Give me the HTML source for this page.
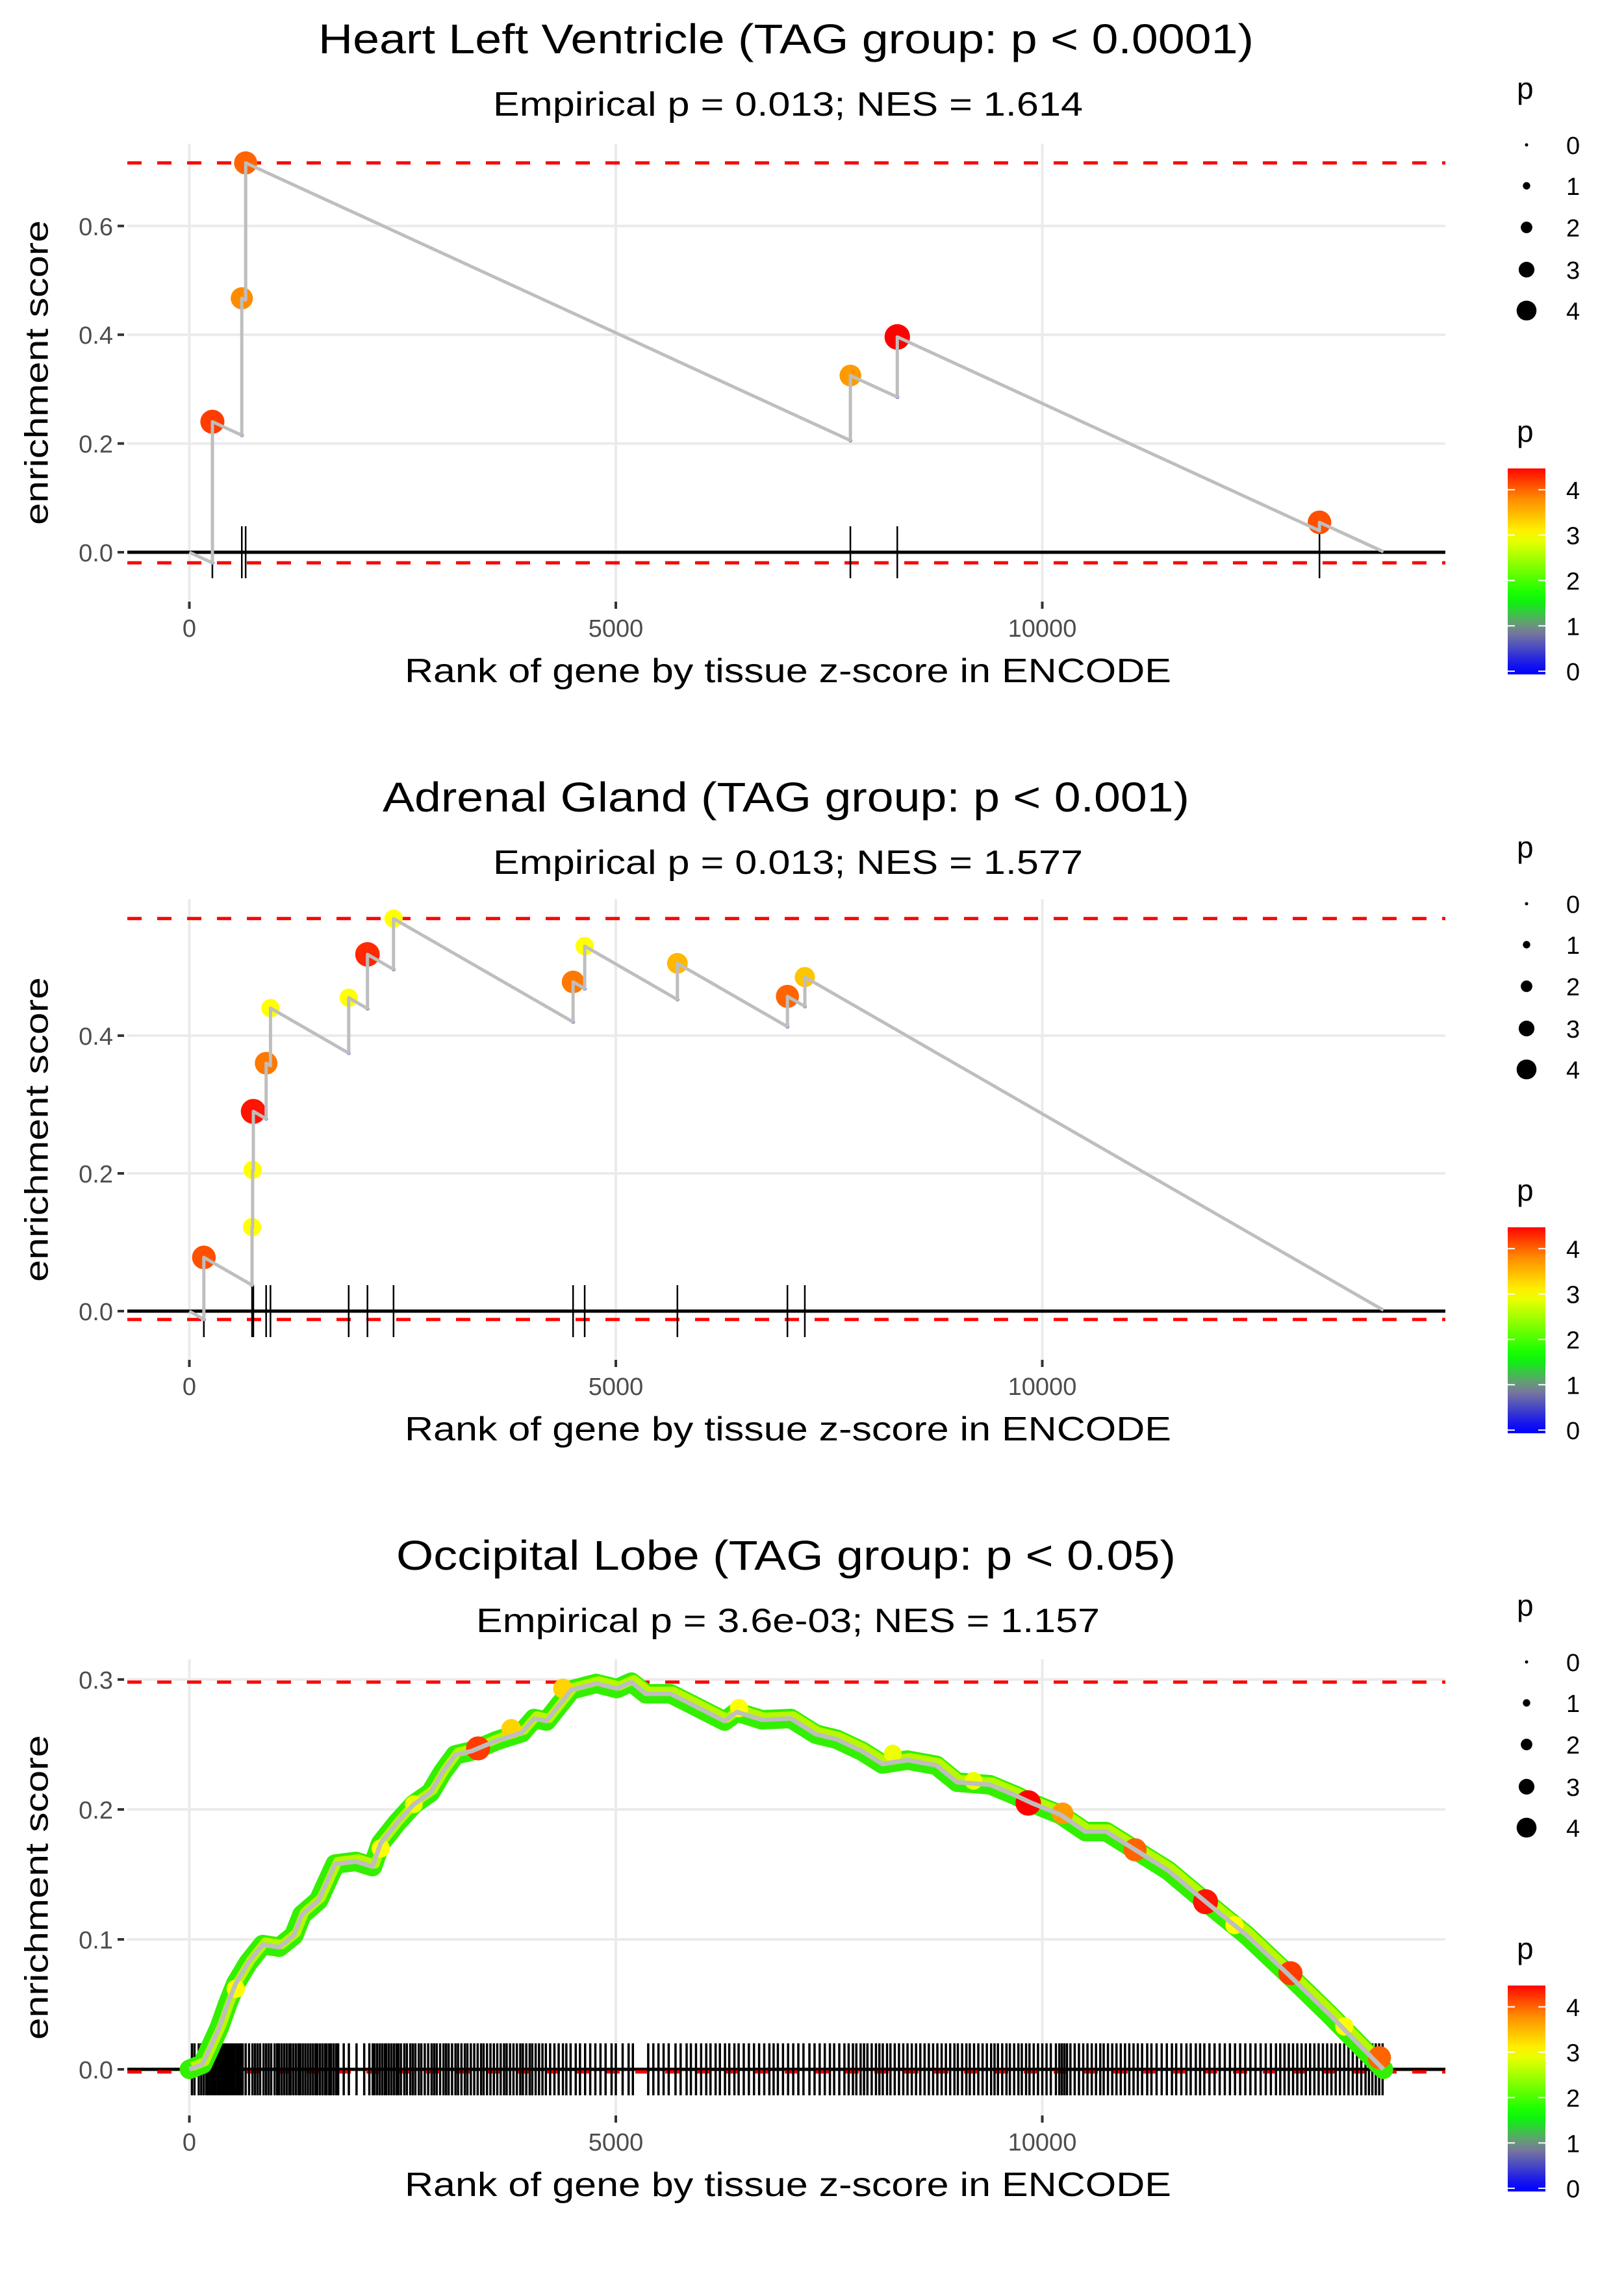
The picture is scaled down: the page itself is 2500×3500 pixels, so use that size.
<!DOCTYPE html>
<html><head><meta charset="utf-8">
<style>
html,body{margin:0;padding:0;background:#fff;}
svg{display:block;font-family:"Liberation Sans",sans-serif;}
</style></head>
<body>
<svg id="chart" width="2500" height="3500" viewBox="0 0 2500 3500" xmlns="http://www.w3.org/2000/svg">
<defs>
<linearGradient id="pgrad" x1="0" y1="1" x2="0" y2="0"></linearGradient>
</defs>
</svg>
<script>
// ---------- DATA ----------
const xTickValues = [0, 5000, 10000];
const xTickLabels = ["0", "5000", "10000"];
const nGenes = 14000;

const p1Titles = ["Heart Left Ventricle (TAG group: p < 0.0001)", "Empirical p = 0.013; NES = 1.614"];
const p1HitRanks = [270, 615, 660, 7750, 8300, 13250];
const p1HitES = [0.24, 0.467, 0.716, 0.325, 0.396, 0.055];
const p1HitP = [4.2, 3.8, 4.0, 3.7, 4.5, 4.1];
const p1MissStep = 0.0000720;
const p1YTicks = [0, 0.2, 0.4, 0.6];
const p1YTickLabels = ["0.0", "0.2", "0.4", "0.6"];

const p2Titles = ["Adrenal Gland (TAG group: p < 0.001)", "Empirical p = 0.013; NES = 1.577"];
const p2HitRanks = [170, 735, 742, 750, 900, 951, 1868, 2088, 2394, 4499, 4635, 5722, 7012, 7216];
const p2HitES = [0.078, 0.122, 0.205, 0.29, 0.36, 0.44, 0.455, 0.518, 0.57, 0.478, 0.53, 0.505, 0.457, 0.485];
const p2HitP = [4.1, 3.0, 3.0, 4.4, 3.9, 3.0, 3.0, 4.3, 3.0, 3.9, 3.0, 3.5, 4.0, 3.4];
const p2MissStep = 0.0000713;
const p2YTicks = [0, 0.2, 0.4];
const p2YTickLabels = ["0.0", "0.2", "0.4"];

const p3Titles = ["Occipital Lobe (TAG group: p < 0.05)", "Empirical p = 3.6e-03; NES = 1.157"];
const p3CurveRanks = [0,155,350,447,544,690,860,1054,1224,1321,1515,1612,1710,1952,2147,2244,2438,2632,2827,2972,3118,3312,3604,3895,4041,4187,4332,4478,4769,5012,5182,5352,5643,5886,6275,6420,6712,7052,7343,7591,7883,8126,8417,8757,9000,9388,9680,9874,10214,10505,10748,11088,11477,11914,12400,12885,13371,13760,14000];
const p3CurveES = [0,0.004,0.032,0.05,0.066,0.082,0.096,0.094,0.103,0.119,0.130,0.144,0.158,0.160,0.156,0.174,0.190,0.204,0.213,0.229,0.242,0.245,0.253,0.259,0.270,0.268,0.280,0.292,0.297,0.293,0.298,0.289,0.289,0.281,0.268,0.275,0.269,0.270,0.258,0.254,0.245,0.235,0.238,0.234,0.221,0.219,0.211,0.205,0.196,0.183,0.183,0.169,0.153,0.129,0.103,0.073,0.042,0.016,0.0];
const p3PointRanks = [544, 2244, 2632, 3385, 3774, 4380, 6445, 8247, 9194, 9835, 10238, 11088, 11914, 12254, 12910, 13541, 13953];
const p3PointES = [0.062, 0.170, 0.204, 0.247, 0.262, 0.293, 0.278, 0.243, 0.222, 0.205, 0.197, 0.169, 0.129, 0.111, 0.074, 0.033, 0.009];
const p3PointP = [3.0, 3.0, 2.9, 4.2, 3.3, 3.3, 3.0, 2.9, 2.9, 4.5, 3.7, 4.0, 4.4, 3.0, 4.2, 3.0, 4.0];
const p3RugRanks = [30,60,110,140,170,200,215,240,265,290,305,330,350,365,390,410,430,445,470,490,505,530,555,580,600,625,660,700,740,770,800,830,870,900,930,960,1000,1030,1050,1080,1110,1140,1170,1190,1220,1250,1280,1300,1330,1360,1390,1420,1450,1480,1500,1530,1560,1590,1610,1640,1660,1690,1720,1745,1810,1870,1960,2050,2110,2150,2170,2200,2230,2260,2290,2310,2340,2370,2400,2430,2450,2480,2520,2550,2590,2620,2650,2690,2720,2760,2800,2840,2870,2900,2940,2980,3010,3040,3080,3120,3150,3190,3230,3260,3300,3340,3380,3420,3450,3490,3530,3570,3610,3650,3690,3720,3760,3800,3840,3880,3910,3950,3990,4020,4060,4100,4140,4180,4230,4280,4330,4380,4420,4470,4530,4580,4640,4700,4760,4820,4880,4950,5000,5080,5150,5200,5380,5440,5500,5560,5620,5700,5760,5830,5880,5940,6000,6060,6110,6170,6220,6280,6330,6390,6440,6500,6560,6620,6680,6740,6800,6850,6900,6960,7020,7080,7140,7200,7270,7330,7390,7450,7510,7560,7620,7680,7730,7780,7820,7870,7910,7950,8000,8050,8090,8130,8180,8220,8270,8320,8370,8420,8470,8520,8570,8620,8670,8720,8770,8820,8870,8920,8970,9010,9060,9110,9150,9200,9250,9300,9350,9400,9440,9480,9530,9580,9620,9670,9720,9760,9810,9850,9900,9950,10000,10050,10100,10160,10200,10230,10260,10290,10330,10380,10430,10480,10530,10580,10630,10680,10720,10770,10820,10870,10920,10970,11020,11070,11120,11170,11230,11280,11340,11400,11460,11520,11570,11630,11690,11740,11800,11850,11900,11960,12020,12080,12140,12200,12260,12320,12380,12440,12500,12560,12620,12680,12740,12790,12840,12890,12940,12990,13040,13090,13140,13190,13240,13290,13340,13390,13440,13490,13540,13590,13640,13690,13740,13790,13830,13870,13910,13950,13990];
const p3YTicks = [0, 0.1, 0.2, 0.3];
const p3YTickLabels = ["0.0", "0.1", "0.2", "0.3"];

const sizeLegendValues = [0, 1, 2, 3, 4];
const colorLegendValues = [0, 1, 2, 3, 4];

// ---------- HELPERS ----------
const NS = "http://www.w3.org/2000/svg";
const svg = document.getElementById("chart");
function mk(tag, attrs, parent) {
  const e = document.createElementNS(NS, tag);
  for (const k in attrs) e.setAttribute(k, attrs[k]);
  (parent || svg).appendChild(e);
  return e;
}
const X0 = 291.5, XK = 0.1313;
function xPx(r) { return X0 + r * XK; }
const PANEL_L = 196, PANEL_R = 2225;

const colorStops = [[0, [0, 0, 255]], [0.9, [128, 128, 150]], [1.6, [0, 255, 0]], [3.0, [255, 255, 0]], [3.8, [255, 140, 0]], [4.5, [255, 0, 0]]];
function pColor(p) {
  if (p <= colorStops[0][0]) return "rgb(" + colorStops[0][1].join(",") + ")";
  for (let i = 1; i < colorStops.length; i++) {
    if (p <= colorStops[i][0]) {
      const a = colorStops[i - 1], b = colorStops[i];
      const t = (p - a[0]) / (b[0] - a[0]);
      const c = a[1].map((v, j) => Math.round(v + (b[1][j] - v) * t));
      return "rgb(" + c.join(",") + ")";
    }
  }
  return "rgb(255,0,0)";
}
function pRadius(p) { return 3 + 3.7 * p; }

// gradient
const grad = document.getElementById("pgrad");
for (let i = 0; i <= 20; i++) {
  const v = -0.07 + (4.54 * i) / 20;
  mk("stop", { offset: (i / 20).toFixed(3), "stop-color": pColor(v) }, grad);
}

function buildRunning(ranks, es, step) {
  const pts = [[0, 0]];
  let prevR = 0, prevV = 0;
  const troughs = [];
  for (let i = 0; i < ranks.length; i++) {
    const low = prevV - step * (ranks[i] - prevR);
    pts.push([ranks[i], low]);
    troughs.push([ranks[i], low]);
    pts.push([ranks[i], es[i]]);
    prevR = ranks[i]; prevV = es[i];
  }
  pts.push([nGenes, Math.max(prevV - step * (nGenes - prevR), 0)]);
  return { pts, troughs };
}

function drawPanel(cfg) {
  const g = mk("g", {});
  
  
  const yPx = v => cfg.y0 - v * cfg.k;
  const t1 = mk("text", { x: 1210, y: cfg.titleY, "text-anchor": "middle", "font-size": 64, fill: "#000", textLength: cfg.titleLen, lengthAdjust: "spacingAndGlyphs" }, g);
  t1.textContent = cfg.titles[0];
  
  
  const t2 = mk("text", { x: 1213, y: cfg.titleY + 96, "text-anchor": "middle", "font-size": 52, fill: "#000", textLength: cfg.subLen, lengthAdjust: "spacingAndGlyphs" }, g);
  t2.textContent = cfg.titles[1];
  
  
  cfg.yTicks.forEach((v, i) => {
    const gl = mk("line", { x1: PANEL_L, x2: PANEL_R, y1: yPx(v), y2: yPx(v), stroke: "#ebebeb", "stroke-width": 4 }, g);
    
    
    const tm = mk("line", { x1: 181, x2: 191, y1: yPx(v), y2: yPx(v), stroke: "#333", "stroke-width": 4 }, g);
    
    
    const tl = mk("text", { x: 174, y: yPx(v) + 14, "text-anchor": "end", "font-size": 38, fill: "#4d4d4d" }, g);
    tl.textContent = cfg.yTickLabels[i];
    
    
  });
  xTickValues.forEach((v, i) => {
    const gl = mk("line", { x1: xPx(v), x2: xPx(v), y1: cfg.top, y2: cfg.bottom, stroke: "#ebebeb", "stroke-width": 4 }, g);
    
    
    const tm = mk("line", { x1: xPx(v), x2: xPx(v), y1: cfg.bottom, y2: cfg.bottom + 11, stroke: "#333", "stroke-width": 4 }, g);
    
    
    const tl = mk("text", { x: xPx(v), y: cfg.bottom + 54, "text-anchor": "middle", "font-size": 38, fill: "#4d4d4d" }, g);
    tl.textContent = xTickLabels[i];
    
    
  });
  const xt = mk("text", { x: 1213, y: cfg.bottom + 124, "text-anchor": "middle", "font-size": 52, fill: "#000", textLength: 1180, lengthAdjust: "spacingAndGlyphs" }, g);
  xt.textContent = "Rank of gene by tissue z-score in ENCODE";
  
  
  const cy = (cfg.top + cfg.bottom) / 2;
  const yt = mk("text", { transform: "translate(56," + cy + ") rotate(-90)", dy: "0.35em", "text-anchor": "middle", "font-size": 50, fill: "#000", textLength: 469, lengthAdjust: "spacingAndGlyphs" }, g);
  yt.textContent = "enrichment score";
  
  
  const zl = mk("line", { x1: PANEL_L, x2: PANEL_R, y1: yPx(0), y2: yPx(0), stroke: "#000", "stroke-width": 5 }, g);
  
  
  [cfg.maxES, cfg.minES].forEach((v, i) => {
    const dl = mk("line", { x1: PANEL_L, x2: PANEL_R, y1: yPx(v), y2: yPx(v), stroke: "#ff0000", "stroke-width": 5, "stroke-dasharray": "22 24" }, g);
    
    
  });
  cfg.rug.forEach(r => {
    const rl = mk("line", { x1: xPx(r), x2: xPx(r), y1: yPx(0) - 40, y2: yPx(0) + 40, stroke: "#000", "stroke-width": cfg.rugW }, g);
    
    
  });
  if (cfg.band) {
    const d = cfg.band.map((p, i) => (i ? "L" : "M") + xPx(p[0]).toFixed(1) + "," + yPx(p[1]).toFixed(1)).join(" ");
    const b1 = mk("path", { d: d, fill: "none", stroke: "#33f000", "stroke-width": 30, "stroke-linejoin": "round", "stroke-linecap": "round" }, g);
    
    
    const b2 = mk("path", { d: d, fill: "none", stroke: "#b8f800", "stroke-width": 14, "stroke-linejoin": "round", transform: "translate(4,-4)" }, g);
    
    
  }
  (cfg.troughs || []).forEach(t => {
    const c = mk("circle", { cx: xPx(t[0]), cy: yPx(t[1]), r: 3, fill: pColor(0.4) }, g);
    
    
  });
  cfg.points.forEach(pt => {
    const c = mk("circle", { cx: xPx(pt[0]), cy: yPx(pt[1]), r: pRadius(pt[2]), fill: pColor(pt[2]) }, g);
    
    
  });
  const ld = cfg.line.map((p, i) => (i ? "L" : "M") + xPx(p[0]).toFixed(1) + "," + yPx(p[1]).toFixed(1)).join(" ");
  const ln = mk("path", { d: ld, fill: "none", stroke: "#bebebe", "stroke-width": cfg.lineW, "stroke-linejoin": "round" }, g);
  
  

  const off = cfg.legOff;
  const lp = mk("text", { x: 2335, y: 152 + off, "font-size": 46, fill: "#000" }, g);
  lp.textContent = "p";
  
  
  const sy = [223, 286, 350, 415, 478];
  sizeLegendValues.forEach((v, i) => {
    const c = mk("circle", { cx: 2350, cy: sy[i] + off, r: 2.5 + 3.2 * v, fill: "#000" }, g);
    
    
    const t = mk("text", { x: 2411, y: sy[i] + off + 14, "font-size": 38, fill: "#000" }, g);
    t.textContent = String(v);
    
    
  });
  const cp = mk("text", { x: 2335, y: 680 + off, "font-size": 46, fill: "#000" }, g);
  cp.textContent = "p";
  
  
  const barTop = 721 + off, barBot = 1038 + off;
  const bar = mk("rect", { x: 2321, y: barTop, width: 58, height: barBot - barTop, fill: "url(#pgrad)" }, g);
  
  
  const cyv = v => barBot - (v + 0.07) / 4.54 * (barBot - barTop);
  colorLegendValues.forEach(v => {
    mk("line", { x1: 2321, x2: 2332, y1: cyv(v), y2: cyv(v), stroke: "#fff", "stroke-width": 2 }, g);
    mk("line", { x1: 2368, x2: 2379, y1: cyv(v), y2: cyv(v), stroke: "#fff", "stroke-width": 2 }, g);
    const t = mk("text", { x: 2411, y: cyv(v) + 14, "font-size": 38, fill: "#000" }, g);
    t.textContent = String(v);
    
    
  });
}

(function () {
  const run = buildRunning(p1HitRanks, p1HitES, p1MissStep);
  const vals = run.pts.map(p => p[1]);
  drawPanel({ name: "panel-heart-left-ventricle", titles: p1Titles, titleY: 82, titleLen: 1440, subLen: 908,
    y0: 850, k: 837, top: 221, bottom: 926, yTicks: p1YTicks, yTickLabels: p1YTickLabels,
    maxES: Math.max(...vals), minES: Math.min(...vals), rug: p1HitRanks, rugW: 2.5, lineW: 5, troughs: run.troughs,
    points: p1HitRanks.map((r, i) => [r, p1HitES[i], p1HitP[i]]), line: run.pts, legOff: 0 });
})();
(function () {
  const run = buildRunning(p2HitRanks, p2HitES, p2MissStep);
  const vals = run.pts.map(p => p[1]);
  drawPanel({ name: "panel-adrenal-gland", titles: p2Titles, titleY: 1249, titleLen: 1242, subLen: 908,
    y0: 2018, k: 1060, top: 1384, bottom: 2093, yTicks: p2YTicks, yTickLabels: p2YTickLabels,
    maxES: Math.max(...vals), minES: Math.min(...vals), rug: p2HitRanks, rugW: 2.5, lineW: 5, troughs: run.troughs,
    points: p2HitRanks.map((r, i) => [r, p2HitES[i], p2HitP[i]]), line: run.pts, legOff: 1168 });
})();
(function () {
  const line = p3CurveRanks.map((r, i) => [r, p3CurveES[i]]);
  drawPanel({ name: "panel-occipital-lobe", titles: p3Titles, titleY: 2416, titleLen: 1200, subLen: 960,
    y0: 3185, k: 2000, top: 2554, bottom: 3256, yTicks: p3YTicks, yTickLabels: p3YTickLabels,
    maxES: Math.max(...p3CurveES), minES: Math.min(...p3CurveES) - 0.002, rug: p3RugRanks, rugW: 3.5, lineW: 7, band: line,
    points: p3PointRanks.map((r, i) => [r, p3PointES[i], p3PointP[i]]), line: line, legOff: 2335 });
})();
</script>
</body></html>
